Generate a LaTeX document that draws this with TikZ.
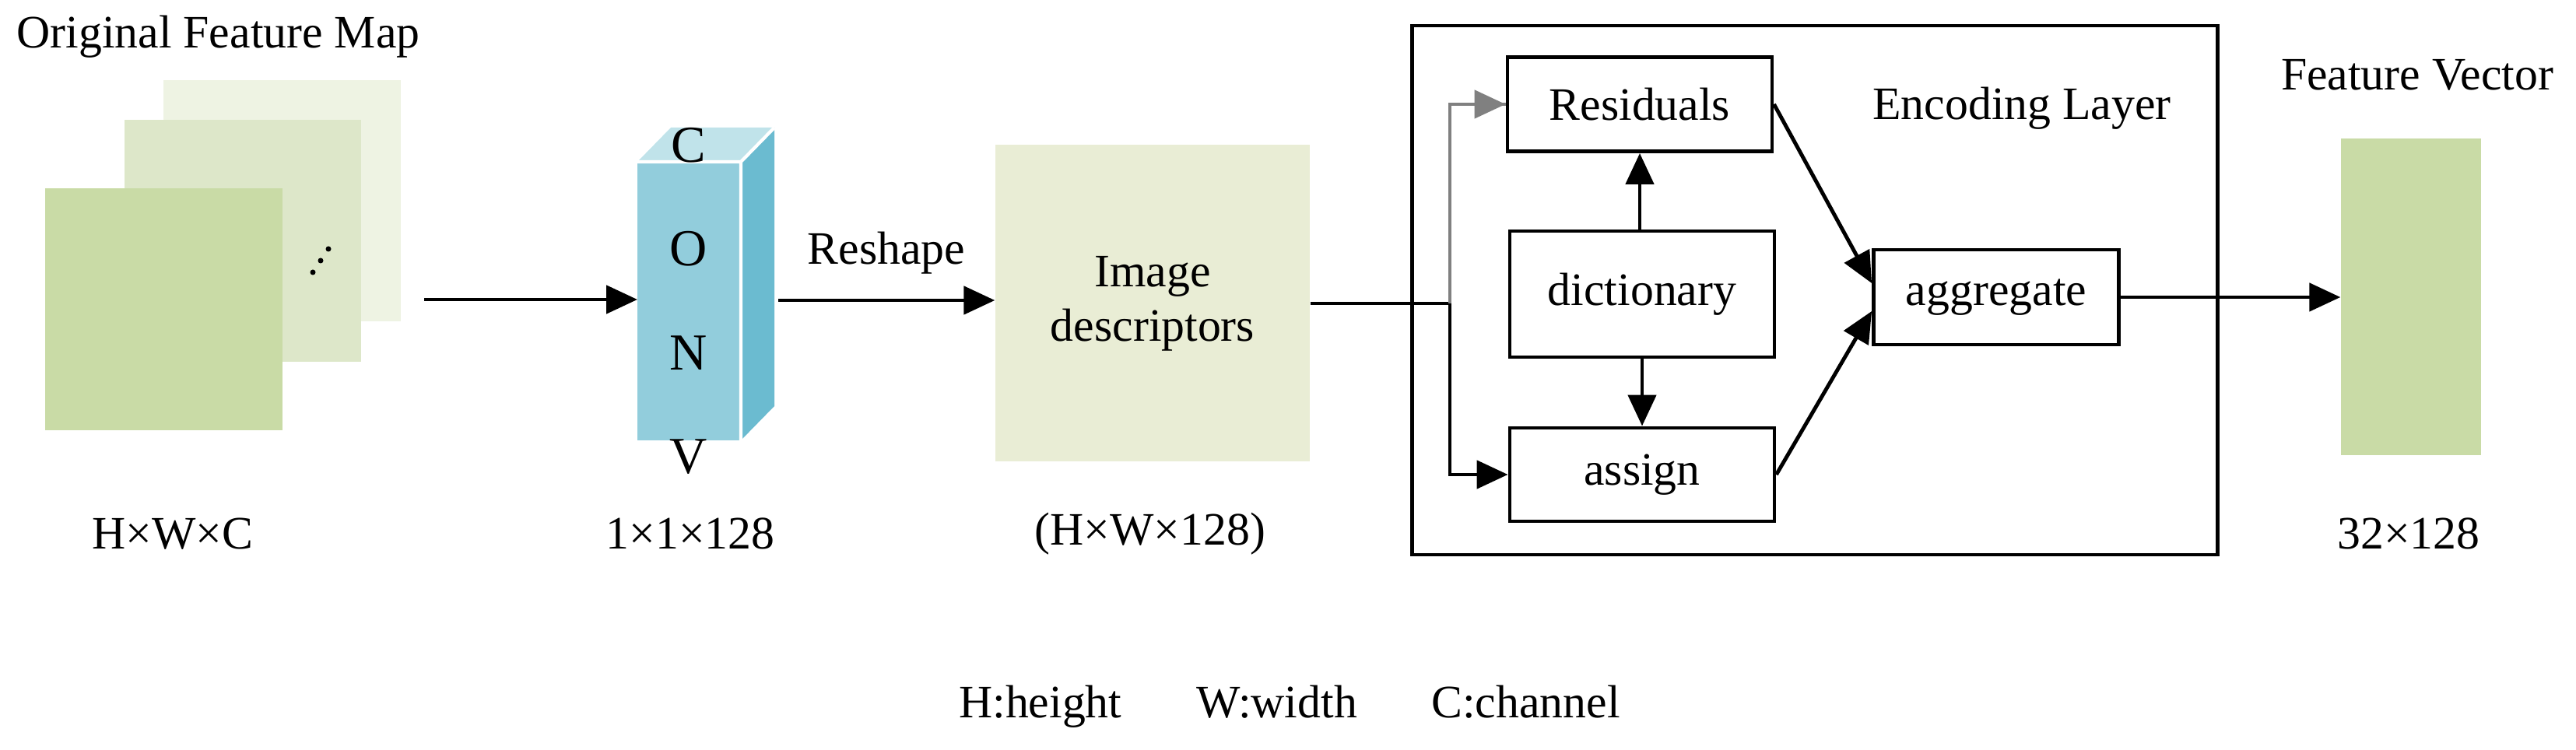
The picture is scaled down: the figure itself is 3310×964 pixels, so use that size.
\documentclass[tikz,border=0pt]{standalone}
\usepackage{fontspec}
\setmainfont{Liberation Serif}
\usetikzlibrary{arrows.meta}
\definecolor{sheetA}{HTML}{C9DBA6}
\definecolor{sheetB}{HTML}{DDE7C9}
\definecolor{sheetC}{HTML}{EEF3E3}
\definecolor{convF}{HTML}{92CDDC}
\definecolor{convT}{HTML}{C0E3EA}
\definecolor{convS}{HTML}{6BBBD0}
\definecolor{descr}{HTML}{E9EDD5}
\tikzset{
  txt/.style={font=\fontsize{17}{20}\selectfont, inner sep=0pt},
  box/.style={draw, line width=1.4pt, font=\fontsize{17}{20}\selectfont, minimum width=3.4cm},
  arr/.style={line width=1.4pt, -{Triangle[length=0.4cm,width=0.36cm]}}
}
\begin{document}
\begin{tikzpicture}[x=0.1mm,y=-0.1mm]
        \useasboundingbox (0,0) rectangle (3310,964);

        % Feature map sheets
        \fill[sheetC] (210,103) rectangle (515,413);
        \fill[sheetB] (160,154) rectangle (464,465);
        \fill[sheetA] (58,242) rectangle (363,553);
        \foreach \dx/\dy in {0/0,-10/15,-20/30} \fill (422+\dx,320+\dy) circle (3.5);
        \node[txt, anchor=base west] (title) at (21,62) {Original Feature Map};
        \node[txt] (hwc) at (222,686) {H×W×C};

        % CONV block
        \fill[convF] (819,208) rectangle (952,566);
        \fill[convT] (819,208) -- (862,164) -- (995,164) -- (952,208) -- cycle;
        \fill[convS] (952,208) -- (995,164) -- (995,522) -- (952,566) -- cycle;
        \draw[white, line width=1.2pt] (819,208) -- (952,208) -- (995,164) (952,208) -- (952,566);
        \node[txt, align=center, font=\fontsize{19}{38}\selectfont] (conv) at (885,387) {C\\O\\N\\V};
        \coordinate (convin) at (819,385);
        \coordinate (convout) at (1000,386);
        \node[txt] (size1) at (887,686) {1×1×128};

        % Image descriptors
        \node[fill=descr, minimum width=4.04cm, minimum height=4.07cm, txt, align=center] (desc) at (1481,390) {Image\\descriptors};
        \node[txt] (size2) at (1478,686) {(H×W×128)};

        \coordinate (mapout) at (545,385);
        \draw[arr] (mapout) -- (convin);
        \draw[arr] (convout) -- node[txt, above=9pt] {Reshape} (desc.west |- convout);

        % Encoding layer
        \node[draw, line width=1.4pt, minimum width=10.35cm, minimum height=6.8cm] (enc) at (2332,373) {};
        \node[txt] (enclabel) at (2598,139) {Encoding Layer};
        \node[box, minimum height=1.21cm] (res) at (2107,134) {Residuals};
        \node[box, minimum height=1.62cm] (dict) at (2110,378) {dictionary};
        \node[box, minimum height=1.2cm] (assign) at (2110,610) {assign};
        \node[box, minimum width=3.15cm, minimum height=1.22cm] (agg) at (2565,382) {aggregate};

        \coordinate (split) at (1863,390);
        \draw[line width=1.4pt] (desc.east |- split) -- (split);
        \draw[gray, line width=1.4pt] (split) |- (res.west);
        \draw[arr, gray] ([xshift=-0.4cm]res.west) -- (res.west);
        \draw[arr] (split) |- (assign.west);
        \draw[arr] (dict.north -| res.south) -- (res.south);
        \draw[arr] (dict.south) -- (assign.north);
        \draw[arr] (res.east) -- ([yshift=0.18cm]agg.west);
        \draw[arr] (assign.east) -- ([yshift=-0.18cm]agg.west);

        % Feature vector
        \node[txt] (fvlabel) at (3106,96) {Feature Vector};
        \node[fill=sheetA, minimum width=1.8cm, minimum height=4.07cm] (fv) at (3098,382) {};
        \node[txt] (size3) at (3095,686) {32×128};
        \draw[arr] (agg.east) -- (fv.west);

        % Legend
        \node[txt] (legend) at (1657,908) {H:height\hspace{1.6em}W:width\hspace{1.6em}C:channel};
\end{tikzpicture}
\end{document}
